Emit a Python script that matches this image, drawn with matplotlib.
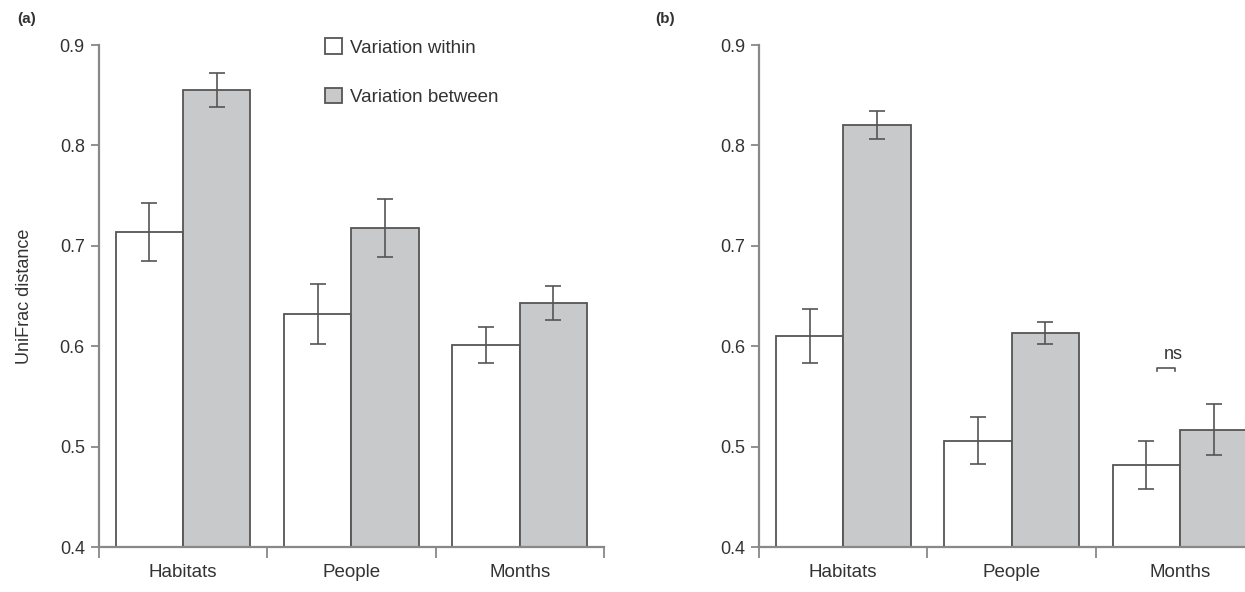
import numpy as np
import matplotlib
matplotlib.use('Agg')
from matplotlib import pyplot as plt
from matplotlib.patches import Patch

plt.rcParams['font.family'] = ['Liberation Sans', 'DejaVu Sans']

categories = ['Habitats', 'People', 'Months']
series_labels = ['Variation within', 'Variation between']

# panel (a)
within_a = [0.714, 0.632, 0.601]
within_a_err = [0.029, 0.030, 0.018]
between_a = [0.855, 0.718, 0.643]
between_a_err = [0.017, 0.029, 0.017]

# panel (b)
within_b = [0.610, 0.506, 0.482]
within_b_err = [0.027, 0.023, 0.024]
between_b = [0.820, 0.613, 0.517]
between_b_err = [0.014, 0.011, 0.025]

yticks = [0.4, 0.5, 0.6, 0.7, 0.8, 0.9]

edge = '#555555'
grey = '#c8c9cb'
txt = '#333333'
axc = '#888888'

fig = plt.figure(figsize=(12.45, 5.92), dpi=100)
W, H = 1245.0, 592.0


def panel(left_px, w_vals, w_err, b_vals, b_err):
    ax = fig.add_axes([left_px / W, (H - 547) / H, 505.3 / W, 502 / H])
    x = np.arange(len(categories)) + 0.5
    bw = 0.4
    for xs, vals, errs, fc in [(x - bw / 2, w_vals, w_err, 'white'),
                               (x + bw / 2, b_vals, b_err, grey)]:
        ax.bar(xs, np.array(vals) - 0.4, bottom=0.4, width=bw, color=fc,
               edgecolor=edge, linewidth=1.3, zorder=2)
        ax.errorbar(xs, vals, yerr=errs, fmt='none', ecolor=edge,
                    elinewidth=1.2, capsize=5.5, capthick=1.2, zorder=3)
    ax.set_xlim(0, 3)
    ax.set_ylim(0.4, 0.9)
    ax.set_yticks(yticks)
    ax.set_yticklabels(['%.1f' % v for v in yticks])
    ax.set_xticks([0, 1, 2, 3])
    ax.set_xticklabels([])
    ax.set_xticks(x, minor=True)
    ax.set_xticklabels(categories, minor=True)
    ax.tick_params(axis='x', which='major', length=8, width=1.3,
                   color=axc, direction='out')
    ax.tick_params(axis='x', which='minor', length=0, pad=12,
                   labelsize=13.5, labelcolor=txt)
    ax.tick_params(axis='y', length=6, width=1.3, color=axc, pad=4,
                   labelsize=13, labelcolor=txt)
    for s in ['top', 'right']:
        ax.spines[s].set_visible(False)
    for s in ['left', 'bottom']:
        ax.spines[s].set_color(axc)
        ax.spines[s].set_linewidth(1.6)
    ax.spines['left'].set_bounds(0.4, 0.9)
    return ax


ax1 = panel(98.7, within_a, within_a_err, between_a, between_a_err)
ax1.set_ylabel('UniFrac distance', fontsize=13, color=txt)
ax1.yaxis.set_label_coords(-0.130, 0.5)

handles = [Patch(facecolor='white', edgecolor=edge, linewidth=1.3),
           Patch(facecolor=grey, edgecolor=edge, linewidth=1.3)]
fig.legend(handles, series_labels, loc='upper left',
           bbox_to_anchor=(316 / W, 1 - 29 / H), frameon=False,
           fontsize=13.5, labelcolor=txt, borderpad=0, labelspacing=1.65,
           handlelength=0.9, handleheight=0.9, handletextpad=0.4)

ax2 = panel(759, within_b, within_b_err, between_b, between_b_err)

# ns marker between the months bars in panel (b)
ns_x = [2.362, 2.469]
ns_y = 0.578
ax2.plot([ns_x[0], ns_x[0], ns_x[1], ns_x[1]],
         [ns_y - 0.003, ns_y, ns_y, ns_y - 0.003],
         color=edge, linewidth=1.2, clip_on=False)
ax2.text(2.458, ns_y + 0.005, 'ns', ha='center', va='bottom',
         fontsize=13, color=txt)

fig.text(17 / W, 1 - 19 / H, '(a)', fontsize=11, fontweight='bold',
         color=txt, va='center', ha='left')
fig.text(655 / W, 1 - 19 / H, '(b)', fontsize=11, fontweight='bold',
         color=txt, va='center', ha='left')

fig.savefig('out.png', dpi=100)
